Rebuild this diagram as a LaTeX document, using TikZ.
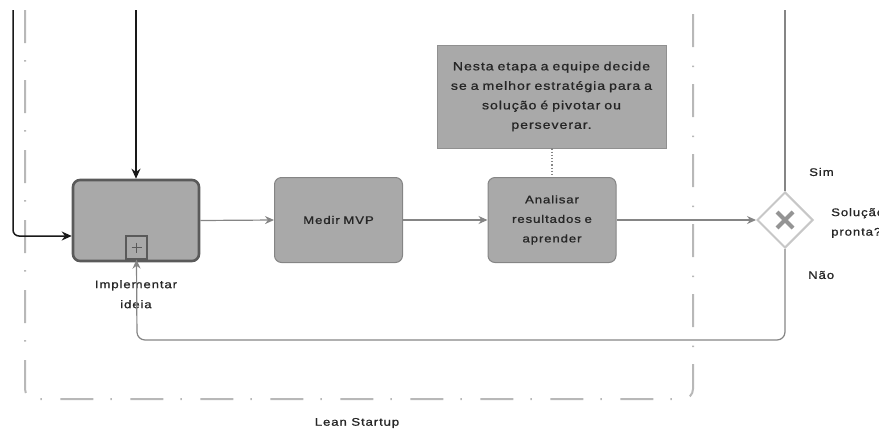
\documentclass[tikz,border=0pt]{standalone}
\usepackage{fontspec}
\setmainfont{Liberation Sans}[LetterSpace=8, FakeStretch=1.2, FakeBold=1]
\usetikzlibrary{shapes.geometric,arrows.meta,calc}
\definecolor{boxfill}{HTML}{A9A9A9}
\definecolor{boxline}{HTML}{858585}
\definecolor{subline}{HTML}{5A5A5A}
\definecolor{flowgray}{HTML}{858585}
\definecolor{lanegray}{HTML}{B8B8B8}
\definecolor{txt}{HTML}{262626}
\begin{document}
\begin{tikzpicture}[x=1pt,y=-1pt,
  font=\fontsize{11}{19.5}\selectfont, text=txt,
  task/.style={rectangle, rounded corners=7pt, fill=boxfill, draw=boxline, line width=1pt,
     minimum width=128pt, minimum height=85pt, inner sep=0pt, align=center, text width=118pt},
  subtask/.style={task, draw=subline, line width=2.6pt, minimum width=126pt, minimum height=81pt},
  flow/.style={draw=flowgray, line width=1.2pt, -{Stealth[length=9pt,width=8pt]}},
  blackflow/.style={draw=black!90, line width=1.5pt, rounded corners=6pt, -{Stealth[length=10pt,width=9pt]}},
  lane/.style={draw=lanegray, line width=2pt, dash pattern=on 33pt off 17pt on 1.5pt off 18.5pt, rounded corners=10pt},
  lbl/.style={inner sep=0pt, align=center}
]
\useasboundingbox (0,0) rectangle (879,432);

% lane
\coordinate (laneTL) at (25,10);
\coordinate (laneBL) at (25,399);
\coordinate (laneBR) at (693,399);
\coordinate (laneTR) at (693,10);
\draw[lane] (laneTL) -- (laneBL) -- (laneBR) -- (laneTR);
\node[lbl] (lanelabel) at (357,423) {Lean Startup};

% tasks
\node[subtask] (impl) at (136,220.5) {};
\node[rectangle, draw=subline, fill=boxfill, line width=1.3pt, minimum width=21pt, minimum height=23pt, inner sep=0pt] (mk) at (136.5,247.5) {};
\draw[subline, line width=1.6pt] ($(mk.center)+(-5,0)$) -- ($(mk.center)+(5,0)$);
\draw[subline, line width=1.6pt] ($(mk.center)+(0,-5)$) -- ($(mk.center)+(0,5)$);
\node[lbl, anchor=north, font=\fontsize{11}{20}\selectfont] (impllabel) at (136,280) {Implementar\\ideia};

\node[task] (medir) at (338.5,220) {Medir MVP};
\node[task] (anal) at (552,220) {Analisar\\resultados e\\aprender};

% annotation
\node[rectangle, fill=boxfill, draw=boxfill!85!black, line width=0.6pt, minimum width=229pt, minimum height=103pt, inner sep=0pt, align=center, text width=227pt, font=\fontsize{11.8}{19.5}\selectfont] (note) at (551.5,96.5)
  {Nesta etapa a equipe decide\\se a melhor estratégia para a\\solução é pivotar ou\\perseverar.};
\draw[flowgray, line width=1.2pt, dotted] (note.south -| anal.north) -- (anal.north);

% gateway
\node[diamond, aspect=1, minimum width=56pt, minimum height=56pt, inner sep=0pt, fill=white, draw=black!22, line width=2pt] (gw) at (785,220) {};
\draw[black!42, line width=4pt] ($(gw.center)+(-8,-8)$) -- ($(gw.center)+(8,8)$);
\draw[black!42, line width=4pt] ($(gw.center)+(-8,8)$) -- ($(gw.center)+(8,-8)$);

\node[lbl, anchor=west] (sim) at (809,172) {Sim};
\node[lbl, anchor=west, align=left] (q) at (831,223) {Solução\\pronta?};
\node[lbl, anchor=west] (nao) at (808,275) {Não};

% incoming black flows
\coordinate (topin) at (136,10);
\coordinate (leftin) at (13,10);
\draw[blackflow] (topin) -- (impl.north);
\draw[blackflow] (leftin) -- (13,236) -- (impl.west |- 0,236);

% sequence flows
\draw[flow] (impl.east) -- (medir.west);
\draw[flow] (medir.east) -- (anal.west);
\draw[flow] (anal.east) -- (gw.west);

% gateway outgoing
\coordinate (simout) at (785,10);
\draw[flowgray, line width=1.2pt] (gw.north) -- (simout);
\draw[flow, rounded corners=8pt] (gw.south) -- (785,340) -- (137,340) -- (mk.south);
\end{tikzpicture}
\end{document}
